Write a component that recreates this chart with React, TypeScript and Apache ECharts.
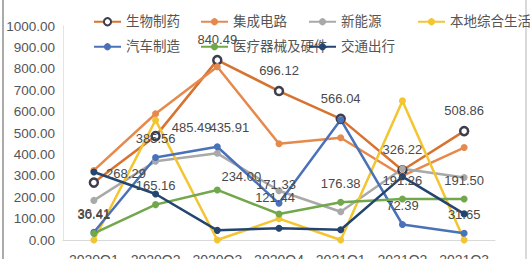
import React, { useEffect, useRef } from "react";
import * as echarts from "echarts";

const categories = ["2020Q1", "2020Q2", "2020Q3", "2020Q4", "2021Q1", "2021Q2", "2021Q3"];
const yTicks = [0, 100, 200, 300, 400, 500, 600, 700, 800, 900, 1000];

const bioPharma = [268.29, 485.49, 840.49, 696.12, 566.04, 326.22, 508.86];
const integratedCircuit = [325, 590, 810, 450, 478, 300, 432];
const newEnergy = [185, 368, 405, 230, 132, 333, 292];
const localLife = [0, 560, 0, 100, 0, 650, 0];
const autoMaking = [36.41, 385.56, 435.91, 171.33, 562, 72.39, 31.65];
const medicalDevices = [30.41, 165.16, 234.0, 121.44, 176.38, 191.26, 191.5];
const transport = [318, 215, 45, 55, 48, 296, 122];

const FONT = "'Liberation Sans', 'Noto Sans CJK SC', sans-serif";

// label placement tweaks (style only), keyed by series name and point index
const labelTweaks: Record<string, Record<number, any>> = {
  生物制药: { 0: { position: "right", offset: [-2, -9] }, 1: { position: "right", offset: [2, -9] } },
  汽车制造: { 2: { offset: [12, 0] }, 3: { offset: [-3, 0] }, 4: { show: false } },
  医疗器械及硬件: { 2: { offset: [24, 6] }, 3: { offset: [-4, 2] } },
};

export default function App() {
  const ref = useRef<HTMLDivElement>(null);
  useEffect(() => {
    if (!ref.current) return;
    const chart = echarts.init(ref.current, undefined, { renderer: "svg" });
    const labelStyle = {
      show: true,
      position: "top",
      distance: 9,
      fontSize: 13,
      color: "#4a4a4a",
      fontFamily: FONT,
      formatter: (p: any) => Number(p.value).toFixed(2),
    };
    const withTweaks = (name: string, data: number[]) =>
      data.map((v, i) => {
        const t = labelTweaks[name] && labelTweaks[name][i];
        return t ? { value: v, label: t } : v;
      });
    const mk = (name: string, data: number[], color: string, extra: any = {}) => ({
      name,
      type: "line",
      data: withTweaks(name, data),
      symbol: "circle",
      symbolSize: 7,
      lineStyle: { width: 2.5, color },
      itemStyle: { color },
      ...extra,
    });
    const legendPos: [string, number, number][] = [
      ["生物制药", 93, 15],
      ["集成电路", 200, 15],
      ["新能源", 308, 15],
      ["本地综合生活", 417, 15],
      ["汽车制造", 93, 40],
      ["医疗器械及硬件", 200, 40],
      ["交通出行", 308, 40],
    ];
    chart.setOption({
      animation: false,
      textStyle: { fontFamily: FONT },
      legend: legendPos.map(([n, x, y]) => ({
        data: [n],
        left: x,
        top: y,
        itemWidth: 27,
        itemHeight: 9,
        itemGap: 5,
        padding: 0,
        textStyle: { fontSize: 13.5, color: "#555", fontFamily: FONT },
      })),
      grid: { left: 63, right: 35, top: 26, bottom: 19, outerBoundsMode: "none", containLabel: false },
      xAxis: {
        type: "category",
        data: categories,
        boundaryGap: true,
        axisLine: { lineStyle: { color: "#d9d9d9", width: 1 } },
        axisTick: { show: false },
        axisLabel: { interval: 0, fontSize: 14, color: "#555", margin: 13, fontFamily: FONT },
      },
      yAxis: {
        type: "value",
        min: yTicks[0],
        max: yTicks[yTicks.length - 1],
        interval: 100,
        axisLine: { show: true, lineStyle: { color: "#e3e3e3", width: 1 } },
        axisTick: { show: false },
        splitLine: { show: false },
        axisLabel: {
          fontSize: 13.5,
          color: "#555",
          margin: 8,
          fontFamily: FONT,
          formatter: (v: number) => v.toFixed(2),
        },
      },
      graphic: [
        { type: "line", shape: { x1: 3, y1: 0, x2: 3, y2: 259 }, style: { stroke: "#aaa", lineWidth: 2 } },
        { type: "line", shape: { x1: 526, y1: 0, x2: 526, y2: 259 }, style: { stroke: "#ccc", lineWidth: 1.5 } },
      ],
      series: [
        mk("生物制药", bioPharma, "#d8722f", {
          symbol: "circle",
          symbolSize: 8,
          itemStyle: { color: "#ffffff", borderColor: "#3d3d4d", borderWidth: 2.5 },
          label: labelStyle,
          z: 3,
        }),
        mk("集成电路", integratedCircuit, "#e5894c"),
        mk("新能源", newEnergy, "#a9a9a9"),
        mk("本地综合生活", localLife, "#f2c531"),
        mk("汽车制造", autoMaking, "#4a72b8", { label: labelStyle }),
        mk("医疗器械及硬件", medicalDevices, "#72a74c", { label: labelStyle }),
        mk("交通出行", transport, "#24456f"),
      ],
    });
    return () => chart.dispose();
  }, []);
  return (
    <div
      ref={ref}
      style={{ position: "fixed", left: 0, top: 0, width: 530, height: 259, background: "#fff" }}
    />
  );
}
